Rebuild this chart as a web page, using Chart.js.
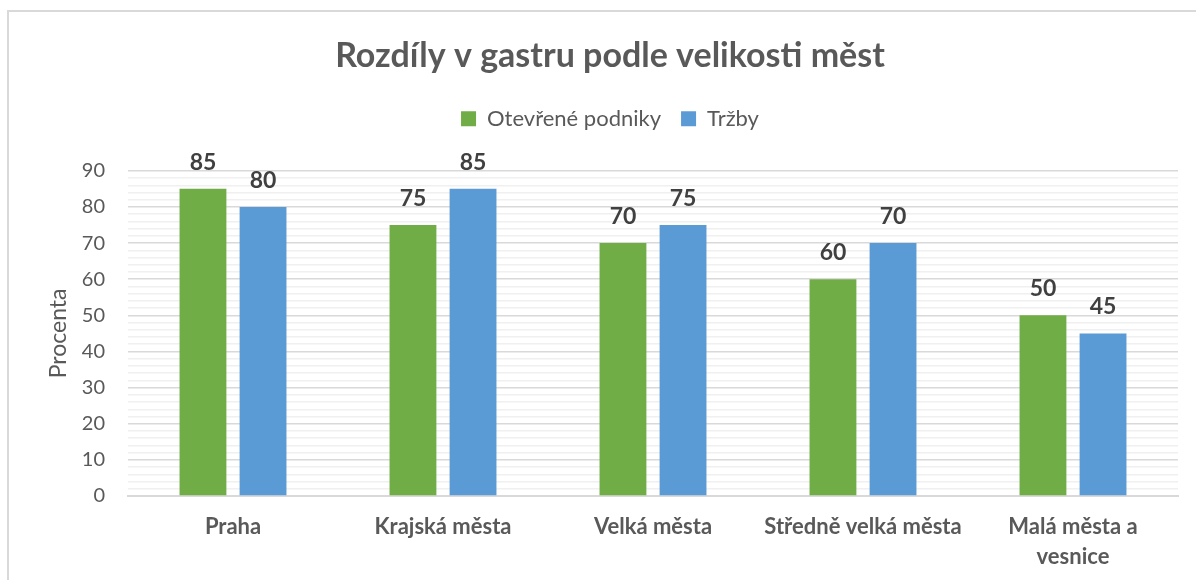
<!DOCTYPE html>
<html>
<head>
<meta charset="utf-8">
<script src="https://cdn.jsdelivr.net/npm/chart.js@4"></script>
<style>
  html, body { margin: 0; padding: 0; background: #fff; }
  #wrap { position: relative; width: 1196px; height: 580px; overflow: hidden; }
  #frame { position: absolute; left: 7px; top: 10px; width: 1400px; height: 800px; border: 2px solid #d9d9d9; }
  canvas { position: absolute; left: 0; top: 0; }
</style>
</head>
<body>
<div id="wrap">
  <div id="frame"></div>
  <canvas id="bar_chart" width="1196" height="580"></canvas>
</div>
<script>
var categories = ["Praha", "Krajská města", "Velká města", "Středně velká města", ["Malá města a", "vesnice"]];
var podniky = [85, 75, 70, 60, 50];
var trzby = [80, 85, 75, 70, 45];
var yMax = 90;

var textColor = '#595959';
var fontFamily = 'Lato, "Open Sans", sans-serif';

// values above the bars
var valueLabels = {
  id: 'valueLabels',
  afterDatasetsDraw: function(chart) {
    var ctx = chart.ctx;
    ctx.save();
    ctx.font = 'bold 23px ' + fontFamily;
    ctx.fillStyle = '#404040';
    ctx.textAlign = 'center';
    ctx.textBaseline = 'alphabetic';
    chart.data.datasets.forEach(function(ds, i) {
      chart.getDatasetMeta(i).data.forEach(function(bar, j) {
        ctx.fillText(ds.data[j], bar.x, bar.y - 19);
      });
    });
    ctx.restore();
  }
};

// extra room under the legend, so the plot starts lower
var legendSpace = {
  id: 'legendSpace',
  beforeLayout: function(chart) {
    var lg = chart.legend;
    if (lg && !lg._patched) {
      var fit = lg.fit;
      lg.fit = function() {
        fit.call(this);
        this.height = 171 - 88;
      };
      lg._patched = true;
    }
  }
};

var barData = {
  labels: categories,
  datasets: [
    {
      label: "Otevřené podniky",
      backgroundColor: '#70AD47',
      data: podniky
    },
    {
      label: "Tržby",
      backgroundColor: '#5B9BD5',
      data: trzby
    }
  ]
};

var barOptions = {
  responsive: false,
  animation: false,
  layout: { padding: { left: 42, right: 18, top: 0, bottom: 0 } },
  datasets: { bar: { categoryPercentage: 0.572, barPercentage: 0.78 } },
  plugins: {
    title: {
      display: true,
      text: 'Rozdíly v gastru podle velikosti měst',
      color: textColor,
      font: { family: fontFamily, size: 34, weight: 'bold' },
      padding: { top: 36, bottom: 11 }
    },
    legend: {
      labels: {
        color: textColor,
        font: { family: fontFamily, size: 22 },
        boxWidth: 15,
        boxHeight: 15,
        padding: 20
      }
    },
    tooltip: { enabled: false }
  },
  scales: {
    x: {
      grid: { display: false, drawTicks: false },
      border: { color: '#d9d9d9', width: 2 },
      afterFit: function(s) { s.height = 84; },
      ticks: {
        color: textColor,
        font: { family: fontFamily, size: 22, weight: 'bold', lineHeight: 1.36 },
        padding: 16,
        maxRotation: 0
      }
    },
    y: {
      min: 0,
      max: yMax,
      border: { display: false },
      afterFit: function(s) { s.width = 86; },
      title: {
        display: true,
        text: 'Procenta',
        color: textColor,
        font: { family: fontFamily, size: 23 },
        padding: { top: 3, bottom: 0 }
      },
      grid: {
        drawTicks: false,
        lineWidth: 1.5,
        color: function(c) { return c.tick && c.tick.value % 10 === 0 ? '#d9d9d9' : '#f0f0f0'; }
      },
      ticks: {
        stepSize: 2,
        autoSkip: false,
        color: textColor,
        font: { family: fontFamily, size: 20 },
        padding: 23,
        callback: function(v) { return v % 10 === 0 ? v : ''; }
      }
    }
  }
};

var ctx = document.getElementById("bar_chart").getContext("2d");
var chart = new Chart(ctx, { type: 'bar', data: barData, options: barOptions, plugins: [valueLabels, legendSpace] });
</script>
</body>
</html>
